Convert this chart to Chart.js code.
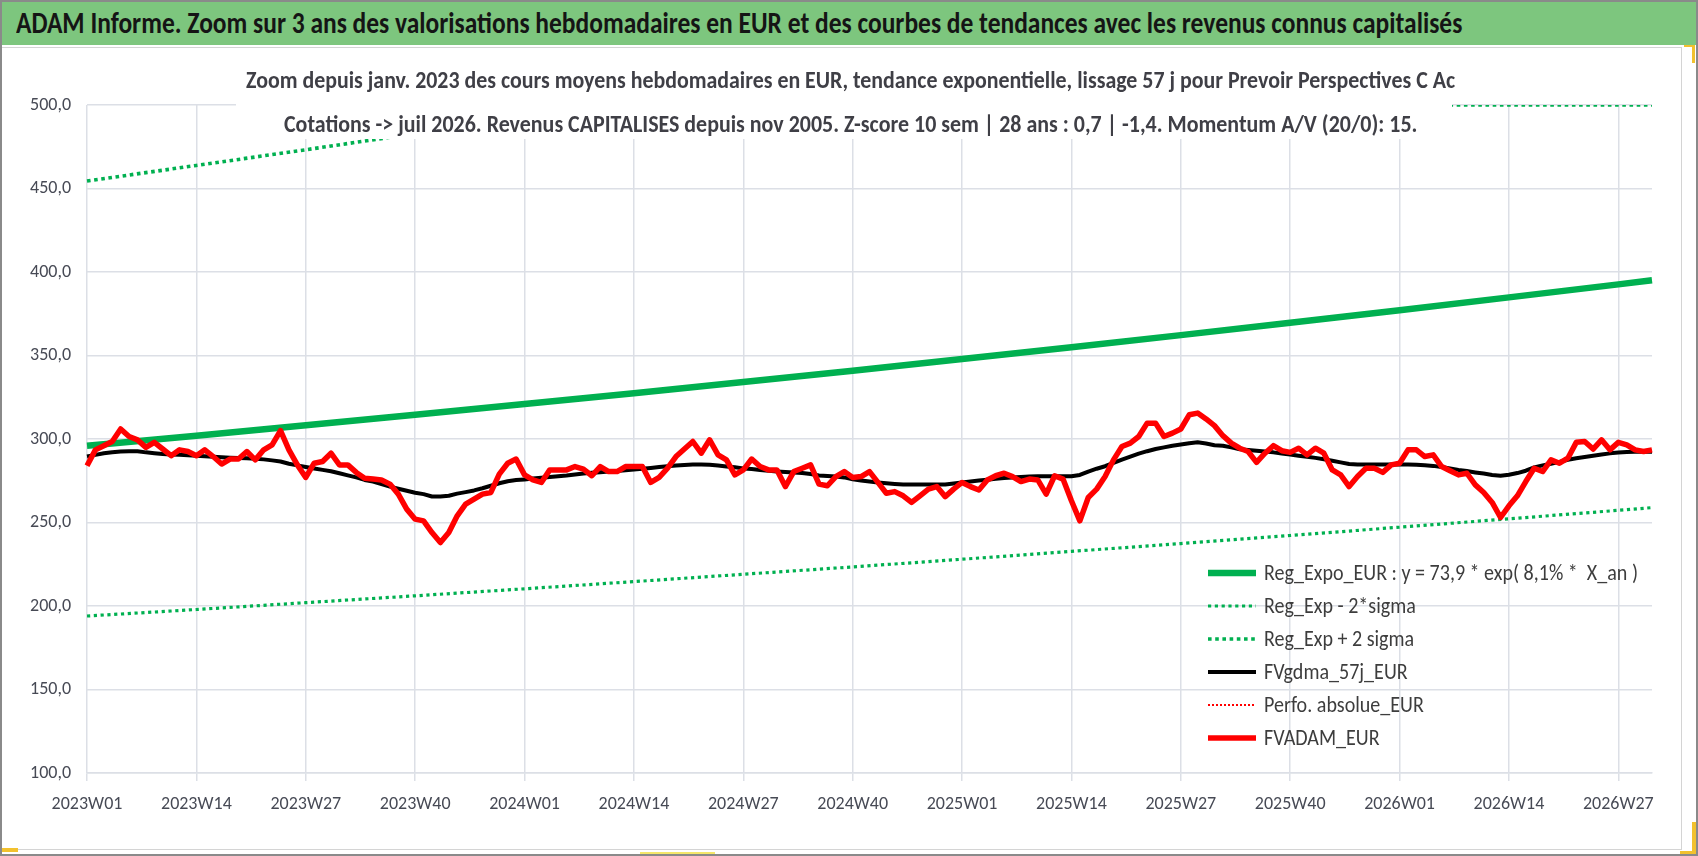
<!DOCTYPE html>
<html>
<head>
<meta charset="utf-8">
<script src="https://cdn.jsdelivr.net/npm/chart.js@4.4.0/dist/chart.umd.min.js"></script>
<style>
    html, body { margin: 0; padding: 0; background: #fff; }
    #page { position: relative; width: 1698px; height: 856px; overflow: hidden; background: #fff;
        font-family: Carlito, 'Liberation Sans Narrow', 'DejaVu Sans Condensed', 'Open Sans', sans-serif; }
    #wheel { position: absolute; left: 0; top: 0; }
    #outer { position: absolute; left: 0; top: 0; width: 1698px; height: 856px; box-sizing: border-box;
        border: 2px solid #8a8a8a; pointer-events: none; }
    #bar { position: absolute; left: 0; top: 0; width: 1698px; height: 45px; background: #7dc67e; }
    #frame { position: absolute; left: 1px; top: 47px; width: 1681px; height: 803px; box-sizing: border-box;
        border: 1.5px solid #d4d4d4; }
    .fit { position: absolute; white-space: nowrap; font-weight: bold; transform-origin: left center; line-height: 1; }
    #title { left: 16px; top: 8px; font-size: 30px; color: #151515; }
    #subbox { position: absolute; left: 236px; top: 52px; width: 1216px; height: 87px; background: #fff; }
    #sub1 { left: 246px; top: 68px; font-size: 24px; color: #3f3f46; }
    #sub2 { left: 284px; top: 112px; font-size: 24px; color: #3f3f46; }
    .mark { position: absolute; background: #f2c12e; }
</style>
</head>
<body>
<div id="page">
    <div id="frame"></div>
    <canvas id="wheel" width="1698" height="856"></canvas>
    <div id="bar"></div>
    <div id="title" class="fit">ADAM Informe. Zoom sur 3 ans des valorisations hebdomadaires en EUR et des courbes de tendances avec les revenus connus capitalisés</div>
    <div id="subbox"></div>
    <div id="sub1" class="fit">Zoom depuis janv. 2023 des cours moyens hebdomadaires en EUR, tendance exponentielle, lissage 57 j pour Prevoir Perspectives C Ac</div>
    <div id="sub2" class="fit">Cotations -&gt; juil 2026. Revenus CAPITALISES depuis nov 2005. Z-score 10 sem | 28 ans : 0,7 | -1,4. Momentum A/V (20/0): 15.</div>
    <div class="mark" style="left:1684px;top:45px;width:10px;height:2px"></div>
    <div class="mark" style="left:1692px;top:45px;width:3px;height:18px"></div>
    <div class="mark" style="left:0px;top:848px;width:18px;height:4px"></div>
    <div class="mark" style="left:1692px;top:822px;width:4px;height:32px"></div>
    <div class="mark" style="left:1680px;top:851px;width:16px;height:3px"></div>
    <div class="mark" style="left:640px;top:852px;width:75px;height:1.5px;background:#f5e66a"></div>
    <div id="outer"></div>
</div>
<script>
const wheel = document.getElementById("wheel");

// categories
const years = [2023, 2024, 2025, 2026];
const weeksInYear = [52, 52, 52, 31];
const weekLabels = [];
years.forEach((y, k) => {
    for (let w = 1; w <= weeksInYear[k]; w++) weekLabels.push(y + "W" + String(w).padStart(2, "0"));
});

// FVADAM_EUR (weekly)
const fvadam = [
    284, 293.5, 296, 298.5, 306, 301.5, 299.5, 295, 298, 294,
    290, 293.5, 292.5, 290, 293.5, 289.5, 285, 288, 288, 292.5,
    287.5, 293.5, 296.5, 305, 293.5, 284.5, 277, 285.5, 286.5, 291.5,
    284.5, 284.5, 280, 276.5, 276, 275.5, 273, 267, 258, 252,
    251, 244, 238, 244, 254, 261, 264, 267, 268, 279,
    285.5, 288, 278.5, 275.5, 274, 281.5, 281.5, 281.5, 283.5, 282,
    278, 283.5, 280.5, 280.5, 283.5, 283.5, 283.5, 274, 277, 282.5,
    289.5, 294, 298.5, 291.5, 299.5, 290.5, 287.5, 278.5, 281.5, 288,
    283.5, 281.5, 281.5, 271.5, 280.5, 282.5, 284.5, 273, 272, 277.5,
    280.5, 277, 277.5, 280.5, 274, 267.5, 268.5, 266, 262, 266,
    270, 271.5, 265.5, 270, 274, 271.5, 269.5, 275.5, 278, 279.5,
    277.5, 274.5, 276, 275.5, 267, 278, 276, 263, 251, 265,
    270, 277.5, 287.5, 295.5, 297.5, 301.5, 309.5, 309.5, 301.5, 303.5,
    306, 314.5, 315.5, 312, 308, 302, 297.5, 294.5, 292.5, 286,
    291.5, 296, 293, 292, 294.5, 290.5, 294.5, 291.5, 281.5, 278.5,
    271.5, 277.5, 282.5, 282.5, 280, 284.5, 285.5, 293.5, 293.5, 289.5,
    290.5, 283.5, 281, 278.5, 279.5, 272.5, 268, 262, 253, 260,
    266, 274.5, 282.5, 280.5, 287.5, 285.5, 288.5, 298, 298.5, 294,
    299.5, 293.5, 298, 296.5, 293.5, 292.5, 293.5
];

// FVgdma_57j_EUR (weekly)
const fvgdma = [
    289.5, 290.5, 291.5, 292, 292.5, 292.7, 292.7, 292, 291.5, 291,
    290.7, 290.5, 290.2, 290, 289.6, 289.3, 289, 288.8, 288.6, 288.4,
    288.2, 287.8, 287.2, 286.5, 285.2, 284.2, 283.2, 282.3, 281.5, 280.7,
    279.5, 278.2, 277, 275.5, 274.5, 273, 271.5, 270.2, 269, 267.8,
    267, 265.6, 265.5, 266, 267.3, 268.2, 269.2, 270.5, 272, 273.5,
    274.7, 275.4, 275.8, 276.3, 276.8, 277.2, 277.7, 278.1, 278.7, 279.3,
    279.8, 280.1, 280.5, 280.9, 281.3, 281.8, 282.2, 282.7, 283.2, 283.7,
    284.1, 284.5, 284.7, 284.7, 284.6, 284.1, 283.6, 283.1, 282.4, 282,
    281.5, 281, 280.6, 280.3, 280, 279.7, 279, 278.2, 277.8, 277.5,
    277, 275.9, 275.2, 274.6, 274, 273.5, 273.1, 272.8, 272.8, 272.8,
    272.8, 272.8, 272.8, 273.4, 274, 274.6, 275.1, 275.6, 276.2, 276.7,
    277, 277.3, 277.5, 277.7, 277.7, 277.7, 277.7, 277.7, 278.5, 280.5,
    282.2, 283.7, 285.7, 287.7, 289.5, 291.2, 292.7, 294, 295, 296,
    296.7, 297.5, 298, 297.3, 296.3, 296, 295, 293.9, 293.4, 292.9,
    292.5, 292, 291.3, 290.7, 290, 289.4, 288.7, 287.9, 287, 286,
    285, 284.7, 284.7, 284.7, 284.7, 284.7, 284.7, 284.7, 284.6, 284.3,
    283.9, 283.2, 282.4, 281.5, 280.8, 280, 279.3, 278.5, 278, 278.6,
    279.6, 281, 283, 284.2, 285.2, 286.3, 287.6, 288.5, 289.2, 290,
    290.7, 291.4, 291.9, 292.2, 292.3, 292.3, 292.3
];

// trend curves, read at the grid weeks
const trendWeeks = [0, 13, 26, 39, 52, 65, 78, 91, 104, 117, 130, 143, 156, 169, 182, 186];
const regExpo = [296, 302, 308.2, 314.5, 320.9, 327.4, 334.1, 340.9, 347.9, 355, 362.2, 369.6, 377.1, 384.8, 392.6, 395.1];
const regLow = [194, 197.9, 202, 206.1, 210.3, 214.6, 219, 223.4, 228, 232.7, 237.4, 242.2, 247.2, 252.2, 257.3, 258.9];
const highWeeks = [0, 13, 26, 39, 52, 62, 186];
const regHigh = [454.5, 463.8, 473.2, 482.9, 492.8, 500, 500];
const perfoAbsolue = [];

const yTicks = { min: 100, max: 500, step: 50 };

const pts = (idx, vals) => idx.map((k, j) => ({ x: weekLabels[k], y: vals[j] }));

const narrow = "Carlito, 'Liberation Sans Narrow', 'DejaVu Sans Condensed', 'Open Sans', sans-serif";
const gridColor = "#dcdfe6";
const textColor = "#474a55";

const sideLegend = {
    id: "sideLegend",
    afterDraw(chart) {
        const ctx = chart.ctx;
        const x0 = chart.chartArea.left + 1121;
        const y0 = 573;
        ctx.save();
        ctx.font = "22px " + narrow;
        const sx = Math.min(1, 374 / ctx.measureText(chart.data.datasets[0].label).width);
        ctx.restore();
        chart.data.datasets.forEach((ds, i) => {
            const y = y0 + i * 33;
            ctx.save();
            ctx.strokeStyle = ds.borderColor;
            ctx.lineWidth = ds.borderWidth;
            ctx.setLineDash(ds.borderDash || []);
            ctx.beginPath();
            ctx.moveTo(x0, y);
            ctx.lineTo(x0 + 48, y);
            ctx.stroke();
            ctx.setLineDash([]);
            ctx.fillStyle = "#3d3d3d";
            ctx.font = "22px " + narrow;
            ctx.textBaseline = "middle";
            ctx.translate(x0 + 56, y + 1);
            ctx.scale(sx, 1);
            ctx.fillText(ds.label, 0, 0);
            ctx.restore();
        });
    },
};

let myChart = new Chart(wheel, {
    type: "line",
    plugins: [sideLegend],
    data: {
        labels: weekLabels,
        datasets: [
            { label: "Reg_Expo_EUR : y = 73,9 * exp( 8,1% *  X_an )", data: pts(trendWeeks, regExpo),
              borderColor: "#00b050", borderWidth: 6.5, order: 3 },
            { label: "Reg_Exp - 2*sigma", data: pts(trendWeeks, regLow),
              borderColor: "#00b050", borderWidth: 3.2, borderDash: [3.2, 3.6], order: 4 },
            { label: "Reg_Exp + 2 sigma", data: pts(highWeeks, regHigh),
              borderColor: "#00b050", borderWidth: 3.6, borderDash: [3.6, 3.6], order: 5 },
            { label: "FVgdma_57j_EUR", data: fvgdma, borderColor: "#000000", borderWidth: 4, order: 1 },
            { label: "Perfo. absolue_EUR", data: perfoAbsolue, borderColor: "#ff0000",
              borderWidth: 2, borderDash: [2, 2], order: 2 },
            { label: "FVADAM_EUR", data: fvadam, borderColor: "#ff0000", borderWidth: 5.5, order: 0 },
        ],
    },
    options: {
        responsive: false,
        devicePixelRatio: 1,
        animation: false,
        layout: { padding: { left: 0, right: 46, top: 105, bottom: 0 } },
        elements: {
            point: { radius: 0 },
            line: { tension: 0, borderJoinStyle: "round", fill: false },
        },
        plugins: { legend: { display: false }, tooltip: { enabled: false } },
        scales: {
            x: {
                grid: { color: gridColor, lineWidth: 1.5, tickLength: 8 },
                border: { color: gridColor, width: 1.5 },
                ticks: { autoSkip: false, maxRotation: 0, padding: 13, color: textColor,
                         font: { family: narrow, size: 18 } },
                afterBuildTicks: (axis) => { axis.ticks = axis.ticks.filter((t) => t.value % 13 === 0); },
                afterFit: (s) => { s.height = 83; },
            },
            y: {
                min: yTicks.min, max: yTicks.max,
                grid: { color: gridColor, lineWidth: 1.5, drawTicks: false },
                border: { display: false },
                ticks: { stepSize: yTicks.step, padding: 16, color: textColor,
                         font: { family: narrow, size: 18 },
                         callback: (v) => v.toFixed(1).replace(".", ",") },
                afterFit: (s) => { s.width = 87; },
            },
        },
    },
});

const fitText = () => {
    const widths = { title: 1446, sub1: 1209, sub2: 1133 };
    for (const id in widths) {
        const el = document.getElementById(id);
        el.style.transform = "";
        el.style.transform = `scaleX(${widths[id] / el.scrollWidth})`;
    }
};
fitText();
if (document.fonts) document.fonts.ready.then(fitText);
</script>
</body>
</html>
